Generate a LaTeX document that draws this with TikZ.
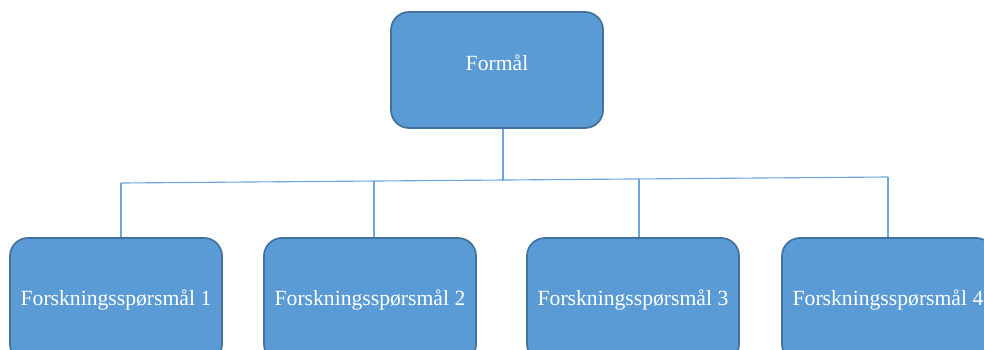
\documentclass[tikz,border=0pt]{standalone}
\usepackage{fontspec}
\setmainfont{Liberation Serif}
\usepackage{xcolor}
\definecolor{officeblue}{RGB}{91,155,213}
\definecolor{officeedge}{RGB}{65,113,156}
\definecolor{linkblue}{RGB}{110,165,220}

\begin{document}
\begin{tikzpicture}[x=0.025cm, y=-0.025cm,
    every node/.style={font=\fontsize{15.4}{18}\selectfont, text=white},
    box/.style={draw=officeedge, fill=officeblue, line width=1.2pt, rounded corners=0.45cm,
        minimum width=5.3cm, inner sep=0pt},
    link/.style={draw=linkblue, line width=0.8pt}]

    \clip (0,0) rectangle (984,349);

    % boxes
    \node [box, minimum height=2.9cm, text depth=10pt] (aim) at (497,70) {Formål};
    \node [box, minimum height=3.1cm] (rq1) at (116,300) {Forskningsspørsmål 1};
    \node [box, minimum height=3.1cm] (rq2) at (370,300) {Forskningsspørsmål 2};
    \node [box, minimum height=3.1cm] (rq3) at (633,300) {Forskningsspørsmål 3};
    \node [box, minimum height=3.1cm] (rq4) at (888,300) {Forskningsspørsmål 4};

    % bus line
    \coordinate (hub) at (503,181);
    \coordinate (bus1) at (121,183);
    \coordinate (bus2) at (374,181);
    \coordinate (bus3) at (639,179);
    \coordinate (bus4) at (888,177);

    \draw [link] (aim.south -| hub) -- (hub);
    \draw [link] (bus1) -- (bus4);
    \draw [link] (bus1) -- (rq1.north -| bus1);
    \draw [link] (bus2) -- (rq2.north -| bus2);
    \draw [link] (bus3) -- (rq3.north -| bus3);
    \draw [link] (bus4) -- (rq4.north -| bus4);
\end{tikzpicture}
\end{document}
